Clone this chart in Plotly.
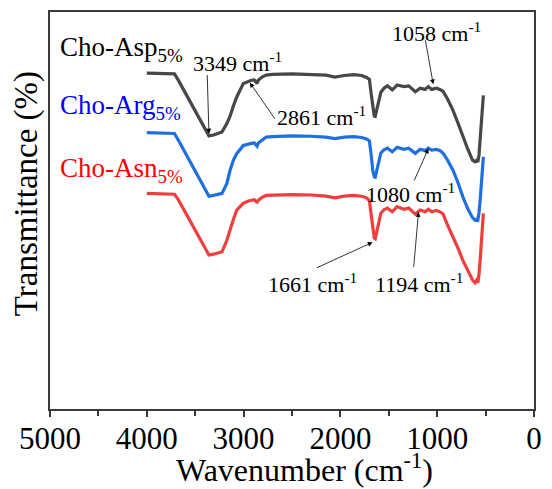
import plotly.graph_objects as go

# ---- data ----
wavenumber = [4000, 3875, 3776, 3714, 3676, 3626, 3526, 3425, 3358, 3310, 3260, 3223, 3173, 3139,
              3105, 3071, 3003, 2950, 2919, 2890, 2872, 2861, 2848, 2810, 2766, 2700, 2500, 2300,
              2150, 2056, 1960, 1860, 1780, 1730, 1700, 1680, 1665, 1650, 1640, 1625, 1605, 1582,
              1550, 1515, 1464, 1413, 1345, 1294, 1226, 1176, 1125, 1091, 1058, 1007, 966, 939,
              896, 838, 785, 736, 685, 635, 610, 594, 580, 568, 555, 540, 523]

asp = [84.6, 84.6, 84.5, 84.4, 82.9, 80.7, 76.2, 71.7, 68.8, 69.0, 69.4, 69.8, 71.9, 73.8,
       76.4, 78.6, 82.0, 82.6, 82.8, 82.9, 82.4, 82.0, 82.8, 83.6, 84.1, 84.3, 84.4, 84.3,
       84.1, 83.6, 84.0, 84.2, 84.0, 83.5, 83.0, 79.0, 75.5, 73.8, 73.7, 75.5, 78.0, 79.8,
       80.8, 81.4, 80.4, 81.6, 81.2, 81.4, 79.9, 80.8, 80.5, 81.2, 80.5, 80.8, 80.4, 80.0,
       78.2, 75.3, 72.0, 68.6, 65.5, 62.7, 62.3, 62.6, 62.2, 64.0, 68.0, 74.0, 79.0]

arg = [69.6, 69.6, 69.5, 69.4, 67.8, 65.5, 61.0, 56.5, 53.6, 53.8, 54.0, 54.3, 56.8, 60.2,
       62.7, 64.3, 66.4, 66.8, 66.9, 67.0, 66.6, 66.2, 67.0, 67.8, 68.5, 68.6, 68.8, 68.7,
       68.5, 68.1, 68.5, 68.6, 68.4, 68.0, 67.5, 63.5, 60.0, 58.5, 58.4, 60.0, 62.5, 64.5,
       65.3, 65.7, 64.8, 65.9, 65.4, 65.7, 64.4, 65.4, 65.1, 65.7, 65.2, 65.4, 65.0, 64.4,
       62.8, 60.2, 57.0, 53.5, 50.5, 48.2, 47.6, 47.8, 47.6, 49.5, 53.0, 58.0, 63.5]

asn = [54.3, 54.3, 54.2, 54.1, 52.8, 50.6, 46.2, 41.7, 38.8, 39.0, 39.3, 39.6, 42.5, 45.3,
       47.8, 50.1, 51.8, 52.4, 52.6, 52.7, 52.3, 51.9, 52.6, 53.3, 53.8, 53.9, 54.0, 53.9,
       53.6, 53.2, 53.6, 53.8, 53.6, 53.2, 52.5, 48.5, 45.0, 43.1, 42.9, 44.5, 47.0, 49.3,
       50.2, 50.6, 49.7, 51.0, 50.3, 50.6, 49.1, 50.1, 49.7, 50.3, 49.7, 50.0, 49.6, 49.1,
       46.5, 43.5, 40.5, 37.5, 35.0, 32.5, 31.8, 32.4, 31.8, 34.0, 38.0, 44.0, 49.3]

series_names = ["Cho-Asp<sub>5%</sub>", "Cho-Arg<sub>5%</sub>", "Cho-Asn<sub>5%</sub>"]
line_colors = ["#474747", "#1f6fe0", "#ee3e3e"]
label_colors = ["#000000", "#0000ff", "#ff0000"]
tick_vals = [5000, 4000, 3000, 2000, 1000, 0]
tick_text = ["5000", "4000", "3000", "2000", "1000", "0"]

# peak annotations: text, text position, arrow tail, arrow head
peak_labels = ["3349 cm<sup>-1</sup>", "2861 cm<sup>-1</sup>", "1058 cm<sup>-1</sup>",
               "1080 cm<sup>-1</sup>", "1661 cm<sup>-1</sup>", "1194 cm<sup>-1</sup>"]
label_pos = [(3061, 87.3), (2191, 73.9), (1010, 95.0), (1274, 54.4), (2289, 31.8), (1183, 31.8)]
arrow_tail = [(3376, 84.5), (2665, 72.7), (1125, 93.3), (1244, 57.2), (2259, 35.4), (1244, 35.4)]
arrow_head = [(3358, 69.4), (2936, 82.2), (1041, 81.8), (1091, 65.6), (1667, 42.0), (1193, 49.6)]

legend_pos = [(4919, 90.6), (4919, 76.0), (4919, 60.3)]

FONT = "Times New Roman, Liberation Serif, serif"

fig = go.Figure()
for name, ys, col in zip(series_names, [asp, arg, asn], line_colors):
    fig.add_trace(go.Scatter(x=wavenumber, y=ys, mode="lines", name=name,
                             line=dict(color=col, width=3.2), showlegend=False))

annotations = []
for txt, (x, y) in zip(peak_labels, label_pos):
    annotations.append(dict(x=x, y=y, xref="x", yref="y", text=txt, showarrow=False,
                            font=dict(family=FONT, size=22, color="black"),
                            xanchor="center", yanchor="middle"))
for (tx, ty), (hx, hy) in zip(arrow_tail, arrow_head):
    annotations.append(dict(x=hx, y=hy, ax=tx, ay=ty, xref="x", yref="y", axref="x", ayref="y",
                            text="", showarrow=True, arrowhead=2, arrowsize=1.2,
                            arrowwidth=0.8, arrowcolor="black"))
for txt, (x, y), col in zip(series_names, legend_pos, label_colors):
    annotations.append(dict(x=x, y=y, xref="x", yref="y", text=txt, showarrow=False,
                            font=dict(family=FONT, size=27, color=col),
                            xanchor="left", yanchor="middle"))
annotations.append(dict(x=-0.0487, y=0.542, xref="paper", yref="paper", text="Transmittance (%)",
                        textangle=-90, showarrow=False, font=dict(family=FONT, size=33, color="black"),
                        xanchor="center", yanchor="middle"))
annotations.append(dict(x=0.526, y=-0.149, xref="paper", yref="paper",
                        text="Wavenumber (cm<sup>-1</sup>)", showarrow=False,
                        font=dict(family=FONT, size=32, color="black"),
                        xanchor="center", yanchor="middle"))

fig.update_layout(
    width=552, height=489,
    margin=dict(l=50, r=10, t=12, b=80),
    paper_bgcolor="white", plot_bgcolor="white",
    font=dict(family=FONT, color="black"),
    annotations=annotations,
)
fig.update_xaxes(range=[5000, 0], tickvals=tick_vals, ticktext=tick_text,
                 ticks="outside", ticklen=6, tickwidth=1.5, tickcolor="#3a3a3a",
                 minor=dict(dtick=500, ticks="outside", ticklen=5, tickwidth=1.5, tickcolor="#3a3a3a"),
                 showline=True, linecolor="#3a3a3a", linewidth=1.5, mirror=True,
                 showgrid=False, zeroline=False, ticklabelstandoff=-5,
                 tickfont=dict(family=FONT, size=31, color="black"))
fig.update_yaxes(range=[0, 100], showticklabels=False, ticks="",
                 showline=True, linecolor="#3a3a3a", linewidth=1.5, mirror=True,
                 showgrid=False, zeroline=False)

fig.write_html("out.html")
